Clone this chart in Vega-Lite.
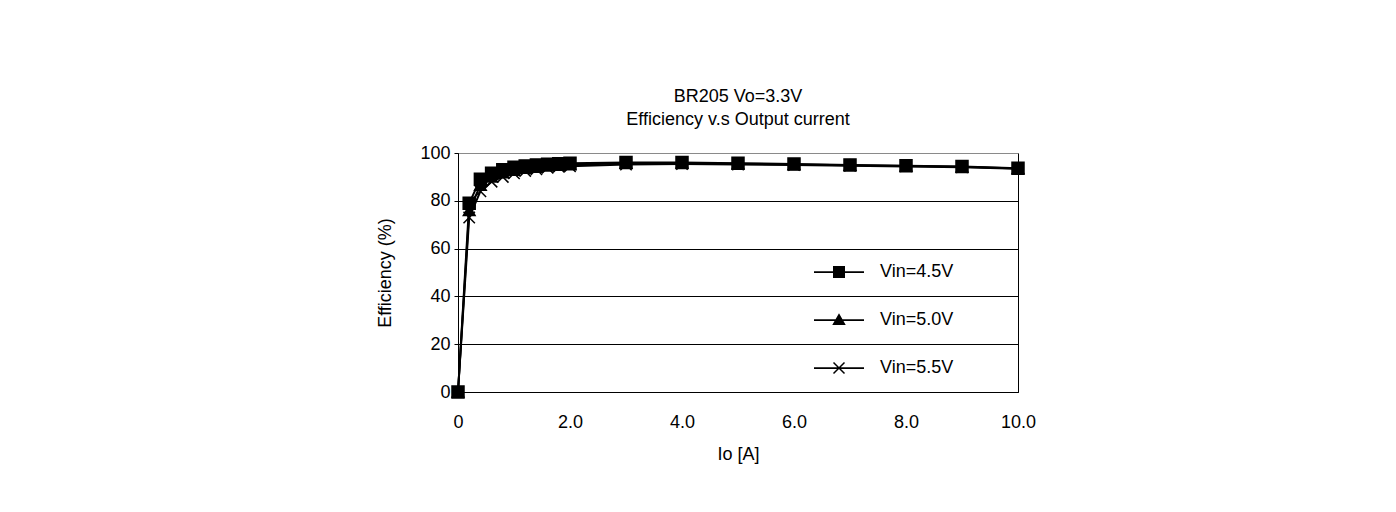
{
  "$schema": "https://vega.github.io/schema/vega-lite/v6.json",
  "autosize": {"type": "none"},
  "padding": {"left": 458, "top": 153, "right": 378, "bottom": 120},
  "width": 560,
  "height": 239,
  "background": "white",
  "config": {
    "font": "Liberation Sans",
    "view": {"stroke": "#000", "strokeWidth": 1},
    "axis": {
      "labelFont": "Liberation Sans", "labelFontSize": 18, "labelColor": "#000",
      "titleFont": "Liberation Sans", "titleFontSize": 18, "titleFontWeight": "normal", "titleColor": "#000",
      "domainColor": "#000", "tickColor": "#000"
    },
    "legend": {"labelFont": "Liberation Sans", "labelFontSize": 18, "labelColor": "#000"}
  },
  "title": {
    "text": ["BR205 Vo=3.3V", "Efficiency v.s Output current"],
    "anchor": "middle", "fontSize": 18, "fontWeight": "normal", "font": "Liberation Sans",
    "color": "#000", "lineHeight": 23, "offset": 15
  },
  "data": {
    "values": [
      {"Vin": "Vin=5.5V", "Io": 0, "Eff": 0},
      {"Vin": "Vin=5.5V", "Io": 0.2, "Eff": 73},
      {"Vin": "Vin=5.5V", "Io": 0.4, "Eff": 84},
      {"Vin": "Vin=5.5V", "Io": 0.6, "Eff": 88},
      {"Vin": "Vin=5.5V", "Io": 0.8, "Eff": 90},
      {"Vin": "Vin=5.5V", "Io": 1.0, "Eff": 91.5},
      {"Vin": "Vin=5.5V", "Io": 1.2, "Eff": 92.5},
      {"Vin": "Vin=5.5V", "Io": 1.4, "Eff": 93.2},
      {"Vin": "Vin=5.5V", "Io": 1.6, "Eff": 93.8},
      {"Vin": "Vin=5.5V", "Io": 1.8, "Eff": 94.2},
      {"Vin": "Vin=5.5V", "Io": 2.0, "Eff": 94.5},
      {"Vin": "Vin=5.5V", "Io": 3, "Eff": 95.2},
      {"Vin": "Vin=5.5V", "Io": 4, "Eff": 95.4},
      {"Vin": "Vin=5.5V", "Io": 5, "Eff": 95.2},
      {"Vin": "Vin=5.5V", "Io": 6, "Eff": 95.0},
      {"Vin": "Vin=5.5V", "Io": 7, "Eff": 94.7},
      {"Vin": "Vin=5.5V", "Io": 8, "Eff": 94.4},
      {"Vin": "Vin=5.5V", "Io": 9, "Eff": 94.0},
      {"Vin": "Vin=5.5V", "Io": 10, "Eff": 93.4},
      {"Vin": "Vin=5.0V", "Io": 0, "Eff": 0},
      {"Vin": "Vin=5.0V", "Io": 0.2, "Eff": 76},
      {"Vin": "Vin=5.0V", "Io": 0.4, "Eff": 86.5},
      {"Vin": "Vin=5.0V", "Io": 0.6, "Eff": 90},
      {"Vin": "Vin=5.0V", "Io": 0.8, "Eff": 91.8},
      {"Vin": "Vin=5.0V", "Io": 1.0, "Eff": 92.8},
      {"Vin": "Vin=5.0V", "Io": 1.2, "Eff": 93.6},
      {"Vin": "Vin=5.0V", "Io": 1.4, "Eff": 94.1},
      {"Vin": "Vin=5.0V", "Io": 1.6, "Eff": 94.6},
      {"Vin": "Vin=5.0V", "Io": 1.8, "Eff": 94.9},
      {"Vin": "Vin=5.0V", "Io": 2.0, "Eff": 95.1},
      {"Vin": "Vin=5.0V", "Io": 3, "Eff": 95.7},
      {"Vin": "Vin=5.0V", "Io": 4, "Eff": 95.8},
      {"Vin": "Vin=5.0V", "Io": 5, "Eff": 95.5},
      {"Vin": "Vin=5.0V", "Io": 6, "Eff": 95.2},
      {"Vin": "Vin=5.0V", "Io": 7, "Eff": 94.9},
      {"Vin": "Vin=5.0V", "Io": 8, "Eff": 94.6},
      {"Vin": "Vin=5.0V", "Io": 9, "Eff": 94.2},
      {"Vin": "Vin=5.0V", "Io": 10, "Eff": 93.5},
      {"Vin": "Vin=4.5V", "Io": 0, "Eff": 0},
      {"Vin": "Vin=4.5V", "Io": 0.2, "Eff": 79},
      {"Vin": "Vin=4.5V", "Io": 0.4, "Eff": 89},
      {"Vin": "Vin=4.5V", "Io": 0.6, "Eff": 91.5},
      {"Vin": "Vin=4.5V", "Io": 0.8, "Eff": 93},
      {"Vin": "Vin=4.5V", "Io": 1.0, "Eff": 94},
      {"Vin": "Vin=4.5V", "Io": 1.2, "Eff": 94.6},
      {"Vin": "Vin=4.5V", "Io": 1.4, "Eff": 95},
      {"Vin": "Vin=4.5V", "Io": 1.6, "Eff": 95.3},
      {"Vin": "Vin=4.5V", "Io": 1.8, "Eff": 95.5},
      {"Vin": "Vin=4.5V", "Io": 2.0, "Eff": 95.7},
      {"Vin": "Vin=4.5V", "Io": 3, "Eff": 96.0},
      {"Vin": "Vin=4.5V", "Io": 4, "Eff": 96.0},
      {"Vin": "Vin=4.5V", "Io": 5, "Eff": 95.7},
      {"Vin": "Vin=4.5V", "Io": 6, "Eff": 95.4},
      {"Vin": "Vin=4.5V", "Io": 7, "Eff": 95.0},
      {"Vin": "Vin=4.5V", "Io": 8, "Eff": 94.7},
      {"Vin": "Vin=4.5V", "Io": 9, "Eff": 94.3},
      {"Vin": "Vin=4.5V", "Io": 10, "Eff": 93.6}
    ]
  },
  "encoding": {
    "x": {
      "field": "Io", "type": "quantitative",
      "scale": {"domain": [0, 10], "nice": false, "zero": true},
      "axis": {
        "title": "Io [A]", "values": [0, 2, 4, 6, 8, 10], "grid": false,
        "tickSize": 0, "labelPadding": 21, "titlePadding": 14, "labelFlush": false,
        "labelExpr": "datum.value == 0 ? '0' : format(datum.value, '.1f')"
      }
    },
    "y": {
      "field": "Eff", "type": "quantitative",
      "scale": {"domain": [0, 100], "nice": false},
      "axis": {
        "title": "Efficiency (%)", "values": [0, 20, 40, 60, 80, 100],
        "grid": true,
        "gridColor": {"condition": {"test": "datum.value === 100", "value": "#8a8a8a"}, "value": "#000"},
        "gridOpacity": 1, "gridWidth": 1,
        "tickSize": 4, "labelPadding": 4, "titlePadding": 25
      }
    }
  },
  "layer": [
    {
      "mark": {"type": "line", "color": "#000", "strokeWidth": 2},
      "encoding": {"detail": {"field": "Vin"}}
    },
    {
      "mark": {"type": "point", "filled": true, "color": "#000", "stroke": "#000", "strokeWidth": 1.5, "opacity": 1},
      "encoding": {
        "shape": {
          "field": "Vin", "type": "nominal",
          "scale": {"domain": ["Vin=4.5V", "Vin=5.0V", "Vin=5.5V"], "range": ["square", "triangle-up", "M-1,-1L1,1M-1,1L1,-1"]},
          "legend": null
        },
        "size": {
          "field": "Vin", "type": "nominal",
          "scale": {"domain": ["Vin=4.5V", "Vin=5.0V", "Vin=5.5V"], "range": [144, 130, 160]},
          "legend": null
        }
      }
    },
    {
      "mark": {"type": "point", "filled": true, "fill": "#000", "opacity": 0, "size": 2500},
      "encoding": {
        "shape": {
          "field": "Vin", "type": "nominal",
          "scale": {
            "domain": ["Vin=4.5V", "Vin=5.0V", "Vin=5.5V"],
            "range": [
              "M-1,-0.035H1V0.035H-1ZM-0.24,-0.24H0.24V0.24H-0.24Z",
              "M-1,-0.035H1V0.035H-1ZM0,-0.27L0.27,0.2H-0.27Z",
              "M-1,-0.035H1V0.035H-1ZM-0.199,-0.241L0.241,0.199L0.199,0.241L-0.241,-0.199ZM-0.241,0.199L0.199,-0.241L0.241,-0.199L-0.199,0.241Z"
            ]
          },
          "legend": {
            "title": null, "orient": "none", "legendX": 355, "legendY": 95,
            "direction": "vertical", "clipHeight": 48, "rowPadding": 0, "padding": 0,
            "labelOffset": 15, "labelFontSize": 18,
            "symbolOpacity": 1, "symbolFillColor": "#000",
            "symbolSize": 2500,
            "encode": {
              "symbols": {
                "update": {
                  "fill": {"value": "#000"},
                  "opacity": {"value": 1},
                  "fillOpacity": {"value": 1}
                }
              }
            }
          }
        }
      }
    }
  ],
  "resolve": {"scale": {"shape": "independent"}, "legend": {"shape": "independent"}}
}
